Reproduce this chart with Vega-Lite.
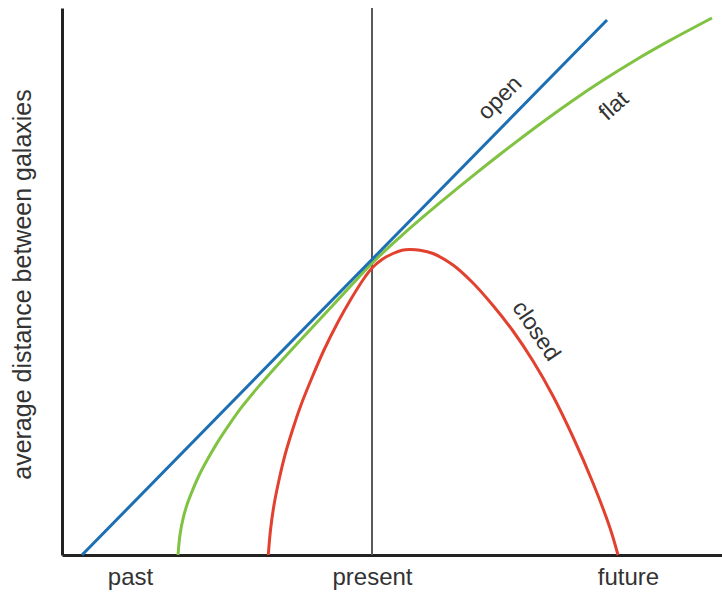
{
  "$schema": "https://vega.github.io/schema/vega-lite/v6.json",
  "width": 660,
  "height": 547,
  "autosize": {"type": "none"},
  "padding": {"left": 62, "top": 8, "right": 0, "bottom": 40},
  "background": "white",
  "config": {"view": {"stroke": null}, "font": "Liberation Sans"},
  "datasets": {
    "curves": [
      {"model": "closed", "t": 206.3, "d": 0},
      {"model": "closed", "t": 208.5, "d": 25},
      {"model": "closed", "t": 212, "d": 50},
      {"model": "closed", "t": 217, "d": 75},
      {"model": "closed", "t": 223, "d": 100},
      {"model": "closed", "t": 230.5, "d": 125},
      {"model": "closed", "t": 239, "d": 150},
      {"model": "closed", "t": 249, "d": 175},
      {"model": "closed", "t": 262, "d": 205},
      {"model": "closed", "t": 276, "d": 233},
      {"model": "closed", "t": 289, "d": 256},
      {"model": "closed", "t": 303, "d": 278},
      {"model": "closed", "t": 310, "d": 287},
      {"model": "closed", "t": 320, "d": 295.5},
      {"model": "closed", "t": 331, "d": 301.5},
      {"model": "closed", "t": 340, "d": 304.8},
      {"model": "closed", "t": 348, "d": 305.5},
      {"model": "closed", "t": 358, "d": 304.8},
      {"model": "closed", "t": 371, "d": 301.5},
      {"model": "closed", "t": 391, "d": 290},
      {"model": "closed", "t": 411, "d": 272},
      {"model": "closed", "t": 431, "d": 249.5},
      {"model": "closed", "t": 451, "d": 224},
      {"model": "closed", "t": 471, "d": 194},
      {"model": "closed", "t": 491, "d": 159},
      {"model": "closed", "t": 511, "d": 118},
      {"model": "closed", "t": 531, "d": 72},
      {"model": "closed", "t": 548, "d": 27},
      {"model": "closed", "t": 556, "d": 0},
      {"model": "flat", "t": 116, "d": 0},
      {"model": "flat", "t": 118, "d": 20.2},
      {"model": "flat", "t": 121, "d": 36.2},
      {"model": "flat", "t": 125, "d": 50.3},
      {"model": "flat", "t": 130, "d": 63.4},
      {"model": "flat", "t": 137, "d": 79.5},
      {"model": "flat", "t": 145, "d": 94.7},
      {"model": "flat", "t": 155, "d": 111.9},
      {"model": "flat", "t": 167, "d": 130.1},
      {"model": "flat", "t": 180, "d": 148.3},
      {"model": "flat", "t": 195, "d": 166.6},
      {"model": "flat", "t": 212, "d": 186},
      {"model": "flat", "t": 230, "d": 205.8},
      {"model": "flat", "t": 250, "d": 227.2},
      {"model": "flat", "t": 270, "d": 248.8},
      {"model": "flat", "t": 290, "d": 270.4},
      {"model": "flat", "t": 310, "d": 291.8},
      {"model": "flat", "t": 341, "d": 320.6},
      {"model": "flat", "t": 375, "d": 349.8},
      {"model": "flat", "t": 408, "d": 376.9},
      {"model": "flat", "t": 441, "d": 403},
      {"model": "flat", "t": 475, "d": 428.8},
      {"model": "flat", "t": 508, "d": 452.6},
      {"model": "flat", "t": 541, "d": 474.7},
      {"model": "flat", "t": 575, "d": 495.8},
      {"model": "flat", "t": 608, "d": 514.6},
      {"model": "flat", "t": 650, "d": 537},
      {"model": "open", "t": 20, "d": 0},
      {"model": "open", "t": 545, "d": 535}
    ],
    "labels": [
      {"model": "open", "t": 438, "d": 457},
      {"model": "flat", "t": 552, "d": 449},
      {"model": "closed", "t": 474, "d": 224}
    ],
    "present": [{"t": 310}]
  },
  "layer": [
    {
      "data": {"name": "present"},
      "mark": {"type": "rule", "color": "#5a5a5a", "strokeWidth": 2},
      "encoding": {
        "x": {"field": "t", "type": "quantitative", "scale": {"domain": [0, 660], "nice": false, "zero": false}}
      }
    },
    {
      "data": {"name": "curves"},
      "mark": {"type": "line", "strokeWidth": 3, "interpolate": "catmull-rom"},
      "encoding": {
        "x": {
          "field": "t", "type": "quantitative",
          "scale": {"domain": [0, 660], "nice": false, "zero": false},
          "axis": {
            "title": null, "grid": false, "ticks": false,
            "values": [68, 310, 566],
            "labelExpr": "datum.value == 68 ? 'past' : datum.value == 310 ? 'present' : 'future'",
            "labelFontSize": 24, "labelColor": "#333333", "labelPadding": 10,
            "domainColor": "#222222", "domainWidth": 3
          }
        },
        "y": {
          "field": "d", "type": "quantitative",
          "scale": {"domain": [0, 547], "nice": false, "zero": false},
          "axis": {
            "title": "average distance between galaxies",
            "grid": false, "ticks": false, "labels": false,
            "domainColor": "#222222", "domainWidth": 3,
            "titleFontSize": 25, "titleFontWeight": "normal", "titleColor": "#333333",
            "titleX": -40, "titleY": 276, "titleAngle": -90, "titleAlign": "center", "titleBaseline": "middle"
          }
        },
        "color": {
          "field": "model", "type": "nominal",
          "scale": {"domain": ["closed", "flat", "open"], "range": ["#e2412f", "#80c241", "#1d6fb4"]},
          "legend": null
        }
      }
    },
    {
      "data": {"name": "labels"},
      "transform": [{"filter": "datum.model == 'open'"}],
      "mark": {"type": "text", "angle": -45, "fontSize": 23, "color": "#333333", "align": "center", "baseline": "middle"},
      "encoding": {
        "x": {"field": "t", "type": "quantitative"},
        "y": {"field": "d", "type": "quantitative"},
        "text": {"field": "model"}
      }
    },
    {
      "data": {"name": "labels"},
      "transform": [{"filter": "datum.model == 'flat'"}],
      "mark": {"type": "text", "angle": -42, "fontSize": 23, "color": "#333333", "align": "center", "baseline": "middle"},
      "encoding": {
        "x": {"field": "t", "type": "quantitative"},
        "y": {"field": "d", "type": "quantitative"},
        "text": {"field": "model"}
      }
    },
    {
      "data": {"name": "labels"},
      "transform": [{"filter": "datum.model == 'closed'"}],
      "mark": {"type": "text", "angle": 56, "fontSize": 23, "color": "#333333", "align": "center", "baseline": "middle"},
      "encoding": {
        "x": {"field": "t", "type": "quantitative"},
        "y": {"field": "d", "type": "quantitative"},
        "text": {"field": "model"}
      }
    }
  ]
}
